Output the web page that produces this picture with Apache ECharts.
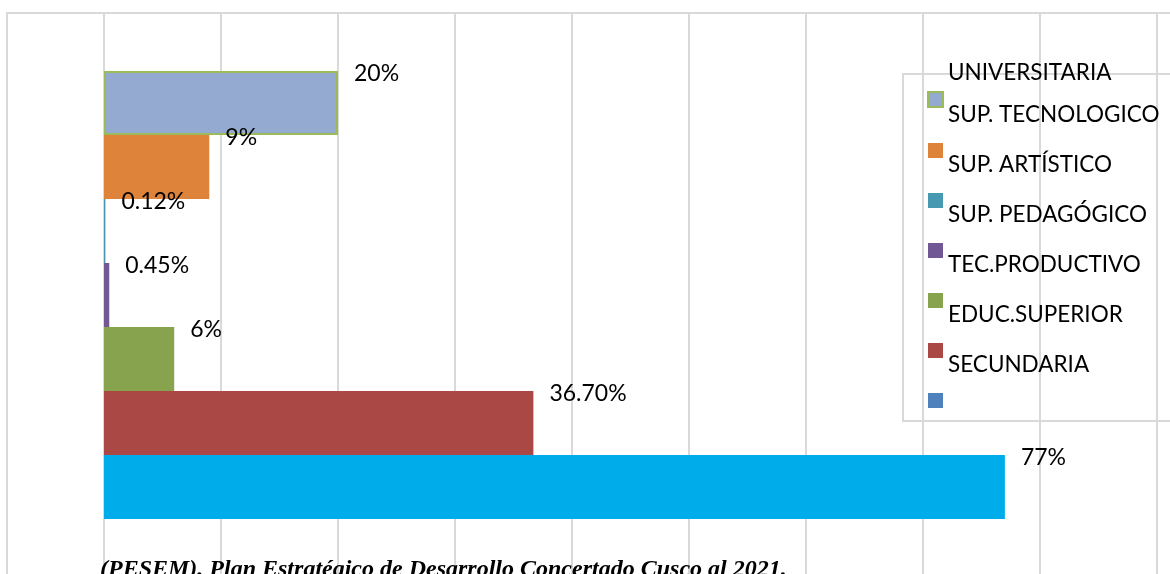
<!DOCTYPE html>
<html>
<head>
<meta charset="utf-8">
<style>
  html, body { margin: 0; padding: 0; background: #ffffff; }
  #chart { width: 1170px; height: 574px; }
</style>
<script src="https://cdn.jsdelivr.net/npm/echarts@6/dist/echarts.min.js"></script>
</head>
<body>
<div id="chart"></div>
<script>
// Education levels, top to bottom
const categories = [
  'UNIVERSITARIA',
  'SUP. TECNOLOGICO',
  'SUP. ARTÍSTICO',
  'SUP. PEDAGÓGICO',
  'TEC.PRODUCTIVO',
  'EDUC.SUPERIOR',
  'SECUNDARIA'
];
// Share of population (%)
const values = [20, 9, 0.12, 0.45, 6, 36.7, 77];
// Text printed next to each bar
const valueLabels = ['20%', '9%', '0.12%', '0.45%', '6%', '36.70%', '77%'];
// Bar fills and legend swatches
const barColors = ['#94AAD0', '#DD843A', '#4699B1', '#715794', '#87A34D', '#AA4846', '#00ADEA'];
const legendColors = ['#94AAD0', '#DD843A', '#4699B1', '#715794', '#87A34D', '#AA4846', '#4F81BD'];
const sourceNote = '(PESEM). Plan Estratégico de Desarrollo Concertado Cusco al 2021.';

const chart = echarts.init(document.getElementById('chart'));

const LABEL_FONT = 'Lato';
const LEGEND_LEFT = 927;
const LEGEND_TOP = 91;
const LEGEND_STEP = 50;
const SWATCH = 15;

// one series per level, stacked so each bar fills its own band
const series = categories.map(function (name, i) {
  const data = categories.map(function (_, j) { return j === i ? values[i] : '-'; });
  const itemStyle = { color: barColors[i] };
  if (i === 0) { itemStyle.borderColor = '#9BBB59'; itemStyle.borderWidth = 2; }
  return {
    type: 'bar',
    name: name,
    stack: 'levels',
    xAxisIndex: 0,
    yAxisIndex: 0,
    barCategoryGap: 0,
    data: data,
    itemStyle: itemStyle,
    label: {
      show: true,
      position: 'right',
      distance: 16,
      offset: [0, -29],
      formatter: function () { return valueLabels[i]; },
      fontFamily: LABEL_FONT,
      fontSize: 23,
      color: '#000000'
    },
    emphasis: { disabled: true }
  };
});

// legend swatches; their captions are set a little above each swatch
const legendData = categories.map(function (name, i) {
  return { name: name, itemStyle: { color: legendColors[i] } };
});
const legendCaptions = categories.map(function (name, i) {
  const swatchCenter = LEGEND_TOP + SWATCH / 2 + LEGEND_STEP * i;
  return {
    type: 'text', z: 10, silent: true,
    style: {
      text: name,
      x: LEGEND_LEFT + SWATCH + 6,
      y: swatchCenter - (i === 0 ? 26 : 34),
      verticalAlign: 'middle',
      font: '22.5px "' + LABEL_FONT + '", sans-serif',
      fill: '#000000'
    }
  };
});

chart.setOption({
  backgroundColor: '#ffffff',
  animation: false,
  grid: [
    { left: 104, top: 71, width: 1053, height: 448, containLabel: false },
    { left: 104, top: 13, width: 1053, height: 700, containLabel: false }
  ],
  xAxis: [
    {
      gridIndex: 0, type: 'value', min: 0, max: 90, interval: 10,
      show: false, splitLine: { show: false }
    },
    {
      gridIndex: 1, type: 'value', min: 0, max: 90, interval: 10,
      axisLine: { show: false }, axisTick: { show: false }, axisLabel: { show: false },
      splitLine: { show: true, lineStyle: { color: '#D9D9D9', width: 2 } }
    }
  ],
  yAxis: [
    {
      gridIndex: 0, type: 'category', data: categories, inverse: true,
      axisLine: { show: false }, axisTick: { show: false }, axisLabel: { show: false },
      splitLine: { show: false }
    },
    { gridIndex: 1, type: 'value', show: false, splitLine: { show: false } }
  ],
  legend: {
    orient: 'vertical',
    left: LEGEND_LEFT,
    top: LEGEND_TOP,
    padding: 0,
    itemGap: LEGEND_STEP - SWATCH,
    itemWidth: SWATCH,
    itemHeight: SWATCH,
    icon: 'rect',
    selectedMode: false,
    formatter: function () { return ''; },
    data: legendData
  },
  graphic: [
    {
      type: 'rect', z: -1, silent: true,
      shape: { x: 7, y: 13, width: 1300, height: 700 },
      style: { fill: 'none', stroke: '#D9D9D9', lineWidth: 2 }
    },
    {
      type: 'rect', z: 0, silent: true,
      shape: { x: 903, y: 74, width: 400, height: 347 },
      style: { fill: 'none', stroke: '#D9D9D9', lineWidth: 2 }
    },
    {
      type: 'text', z: 10, silent: true,
      style: {
        text: sourceNote,
        x: 100, y: 570,
        verticalAlign: 'middle',
        font: 'italic bold 24px "Liberation Serif", "DejaVu Serif", serif',
        fill: '#000000'
      }
    }
  ].concat(legendCaptions),
  series: series
});
</script>
</body>
</html>
